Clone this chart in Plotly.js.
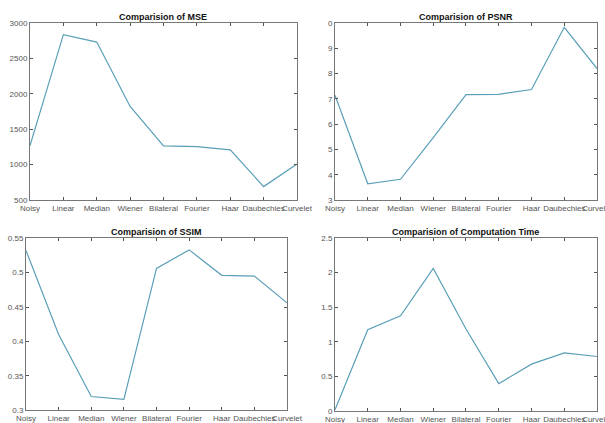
<!DOCTYPE html>
<html><head><meta charset="utf-8">
<script src="https://cdn.plot.ly/plotly-3.0.1.min.js"></script>
<style>html,body{margin:0;padding:0;background:#fff}#c{width:605px;height:423px}</style>
</head><body><div id="c"></div>
<script>
const methods = ["Noisy","Linear","Median","Wiener","Bilateral","Fourier","Haar","Daubechies","Curvelet"];
const mse = [1270, 2835, 2731, 1821, 1264, 1255, 1208, 689, 1009];
const psnr = [27.14, 23.64, 23.82, 25.47, 27.17, 27.18, 27.37, 29.83, 28.2];
const ssim = [0.532, 0.41, 0.32, 0.316, 0.506, 0.533, 0.496, 0.495, 0.456];
const compTime = [0.02, 1.176, 1.377, 2.06, 1.185, 0.397, 0.679, 0.841, 0.789];
const psnrTickVals = [23,24,25,26,27,28,29,30];
const psnrTickText = ["3","4","5","6","7","8","9","0"];
const titles = ["Comparision of MSE","Comparision of PSNR","Comparision of SSIM","Comparision of Computation Time"];

const lineColor = "#5a9fb8";
const idx = methods.map((_, i) => i);
const series = [mse, psnr, ssim, compTime];
const traces = series.map((s, k) => ({
  x: idx, y: s, type: "scatter", mode: "lines",
  line: {color: lineColor, width: 1.2},
  xaxis: "x" + (k ? k + 1 : ""), yaxis: "y" + (k ? k + 1 : ""),
  showlegend: false, hoverinfo: "skip"
}));

function xa(domain, anchor) {
  return {domain, anchor, range: [0, 8], tickvals: idx, ticktext: methods,
    ticks: "inside", ticklen: 3, tickcolor: "#555", mirror: "ticks",
    showline: true, linecolor: "#777", linewidth: 1, showgrid: false, zeroline: false,
    ticklabeloverflow: "allow", ticklabelstandoff: 0,
    tickfont: {family: "Liberation Sans, Arial", size: 8, color: "#555"}, tickangle: 0, automargin: false};
}
function ya(domain, anchor, range, extra) {
  return Object.assign({domain, anchor, range,
    ticks: "inside", ticklen: 3, tickcolor: "#555", mirror: "ticks",
    showline: true, linecolor: "#777", linewidth: 1, showgrid: false, zeroline: false,
    ticklabeloverflow: "allow",
    tickfont: {family: "Liberation Sans, Arial", size: 8, color: "#555"}, automargin: false}, extra || {});
}
const layout = {
  width: 605, height: 423, margin: {l: 0, r: 0, t: 0, b: 0},
  paper_bgcolor: "#fff", plot_bgcolor: "#fff",
  xaxis: xa([0.0496, 0.4909], "y"),
  yaxis: ya([0.5272, 0.9456], "x", [500, 3000], {dtick: 500}),
  xaxis2: xa([0.5537, 0.9868], "y2"),
  yaxis2: ya([0.5272, 0.9456], "x2", [23, 30], {tickvals: psnrTickVals, ticktext: psnrTickText}),
  xaxis3: xa([0.043, 0.4744], "y3"),
  yaxis3: ya([0.03, 0.437], "x3", [0.3, 0.55], {dtick: 0.05}),
  xaxis4: xa([0.5537, 0.9868], "y4"),
  yaxis4: ya([0.028, 0.4374], "x4", [0, 2.5], {dtick: 0.5}),
  annotations: [
    {x: 0.27, y: 1 - 17/423, text: titles[0]},
    {x: 0.77, y: 1 - 17/423, text: titles[1]},
    {x: 0.259, y: 1 - 232/423, text: titles[2]},
    {x: 0.77, y: 1 - 232/423, text: titles[3]}
  ].map(a => Object.assign(a, {xref: "paper", yref: "paper", showarrow: false,
    xanchor: "center", yanchor: "middle",
    font: {family: "Liberation Sans, Arial", size: 9, color: "#111", weight: "bold"}, text: "<b>" + a.text + "</b>"}))
};
Plotly.newPlot("c", traces, layout, {staticPlot: true});
</script></body></html>
